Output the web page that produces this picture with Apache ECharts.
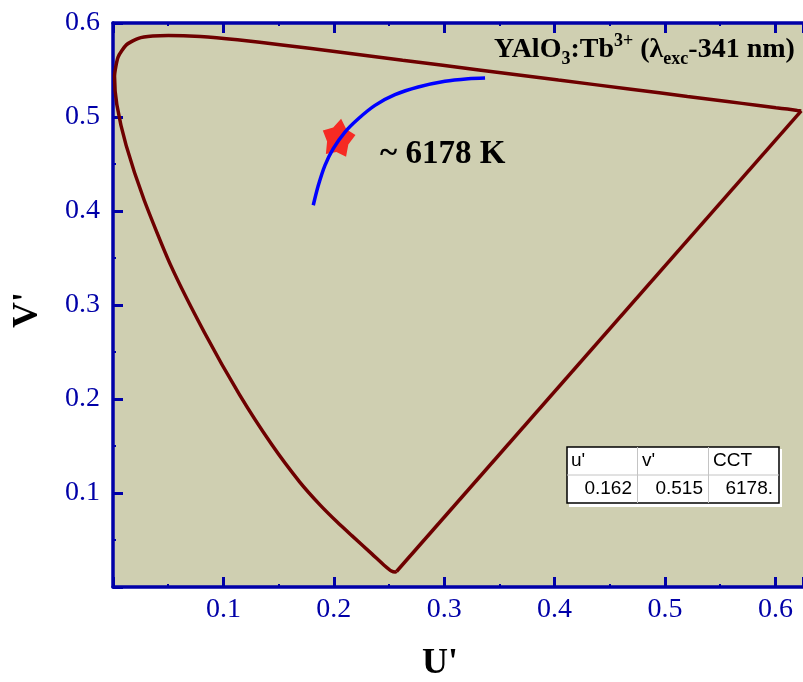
<!DOCTYPE html>
<html>
<head>
<meta charset="utf-8">
<script src="https://cdn.jsdelivr.net/npm/echarts@6/dist/echarts.min.js"></script>
<style>
html,body{margin:0;padding:0;background:#fff;}
#chart{width:803px;height:682px;}
</style>
</head>
<body>
<div id="chart"></div>
<script>
// Spectral locus (CIE 1976 u', v'), 380 nm -> 700 nm
const locusU = [0.2568,0.2557,0.2522,0.2461,0.2347,0.2161,0.2033,0.1877,0.1690,0.1441,0.1147,0.0828,0.0521,0.0282,0.0119,0.0035,0.0014,0.0046,0.0123,0.0231,0.0360,0.0501,0.0792,0.1127,0.1531,0.2026,0.2623,0.3315,0.4035,0.4692,0.5203,0.5565,0.5830,0.6005,0.6109,0.6199,0.6234];
const locusV = [0.0165,0.0159,0.0169,0.0226,0.0350,0.0549,0.0688,0.0871,0.1119,0.1510,0.2044,0.2708,0.3427,0.4117,0.4698,0.5131,0.5432,0.5638,0.5770,0.5837,0.5861,0.5868,0.5856,0.5821,0.5766,0.5694,0.5604,0.5501,0.5393,0.5296,0.5219,0.5165,0.5125,0.5099,0.5084,0.5070,0.5065];
// Purple line (closing the locus)
const purpleU = [0.6234, 0.2568];
const purpleV = [0.5065, 0.0165];
// Planckian locus segment (blue)
const planckU = [0.1814,0.1860,0.1920,0.1995,0.2101,0.2222,0.2373,0.2554,0.2765,0.3007,0.3218,0.3370];
const planckV = [0.4061,0.4273,0.4486,0.4663,0.4840,0.4982,0.5124,0.5237,0.5319,0.5380,0.5407,0.5415];
// Sample chromaticity point
const sampleU = [0.2043];
const sampleV = [0.4787];
// Table
const tableHeader = ["u'", "v'", "CCT"];
const tableValues = ["0.162", "0.515", "6178."];
const cctLabel = "~ 6178 K";

const zip = (a, b) => a.map((v, i) => [v, b[i]]);

const blue = '#0000a8';
const serif = "'Liberation Serif','Times New Roman',serif";
const sans = "'Liberation Sans',Arial,sans-serif";

const chart = echarts.init(document.getElementById('chart'));

// 5-point star, inner radius 0.65 of outer
const starPath = 'path://M50 0 L69.10 23.70 L97.55 34.55 L80.91 60.04 L79.39 90.45 L50 82.5 L20.61 90.45 L19.09 60.04 L2.45 34.55 L30.90 23.70 Z';

const axisCommon = {
  axisLine: { show: true, lineStyle: { color: blue, width: 3.5 } },
  axisTick: { show: true, inside: true, length: 10, lineStyle: { color: blue, width: 3 } },
  minorTick: { show: true, splitNumber: 2, length: 3, lineStyle: { color: blue, width: 2 } },
  splitLine: { show: false }
};

chart.setOption({
  animation: false,
  backgroundColor: '#ffffff',
  grid: { left: 113, right: 0, top: 23, bottom: 95, show: true, backgroundColor: '#cfcfb1', borderWidth: 0 },
  xAxis: [
    Object.assign({
      type: 'value', min: 0, max: 0.625, interval: 0.1, position: 'bottom',
      axisLabel: { color: blue, fontFamily: serif, fontSize: 28, margin: 9, showMinLabel: false, showMaxLabel: false,
        formatter: v => v.toFixed(1) }
    }, axisCommon),
    Object.assign({
      type: 'value', min: 0, max: 0.625, interval: 0.1, position: 'top',
      axisLabel: { show: false }
    }, axisCommon)
  ],
  yAxis: [
    Object.assign({
      type: 'value', min: 0, max: 0.6, interval: 0.1, position: 'left',
      axisLabel: { color: blue, fontFamily: serif, fontSize: 28, margin: 13, showMinLabel: false,
        formatter: v => v.toFixed(1) }
    }, axisCommon)
  ],
  series: [
    {
      type: 'line', data: zip(locusU, locusV), showSymbol: false, smooth: 0.2,
      lineStyle: { color: '#6e0000', width: 3.5 }, z: 2
    },
    {
      type: 'line', data: zip(purpleU, purpleV), showSymbol: false, smooth: false,
      lineStyle: { color: '#6e0000', width: 3.5 }, z: 2
    },
    {
      type: 'scatter', data: zip(sampleU, sampleV), symbol: starPath, symbolSize: [33, 37], symbolRotate: -8,
      itemStyle: { color: '#ff0000' }, z: 3
    },
    {
      type: 'line', data: zip(planckU, planckV), showSymbol: false, smooth: 0.3,
      lineStyle: { color: '#0000ff', width: 3.5 }, z: 4
    }
  ],
  graphic: [
    {
      type: 'text', left: 494, top: 32, z: 10,
      style: {
        text: '{m|YAlO}{sb|3}{m|:Tb}{sp|3+}{m| (λ}{se|exc}{m|-341 nm)}',
        rich: {
          m: { fontFamily: serif, fontWeight: 'bold', fontSize: 28, lineHeight: 36, fill: '#000' },
          sb: { fontFamily: serif, fontWeight: 'bold', fontSize: 18, lineHeight: 20, verticalAlign: 'bottom', fill: '#000' },
          se: { fontFamily: serif, fontWeight: 'bold', fontSize: 18, lineHeight: 14, verticalAlign: 'bottom', fill: '#000' },
          sp: { fontFamily: serif, fontWeight: 'bold', fontSize: 18, lineHeight: 12, verticalAlign: 'top', fill: '#000' }
        }
      }
    },
    {
      type: 'text', x: 380, y: 154, z: 10,
      style: { text: cctLabel, fontFamily: serif, fontWeight: 'bold', fontSize: 33, fill: '#000', textVerticalAlign: 'middle' }
    },
    {
      type: 'text', x: 440, y: 664, z: 10,
      style: { text: "U'", fontFamily: serif, fontWeight: 'bold', fontSize: 36, fill: '#000', textAlign: 'center', textVerticalAlign: 'middle' }
    },
    {
      type: 'text', x: 28, y: 310, rotation: Math.PI / 2, z: 10,
      style: { text: "V'", fontFamily: serif, fontWeight: 'bold', fontSize: 36, fill: '#000', textAlign: 'center', textVerticalAlign: 'middle' }
    },
    // table
    { type: 'rect', shape: { x: 569, y: 449, width: 213, height: 58 }, style: { fill: '#ffffff' }, z: 10 },
    { type: 'rect', shape: { x: 567, y: 447, width: 212, height: 56 }, style: { fill: '#ffffff', stroke: '#000', lineWidth: 1.5 }, z: 11 },
    { type: 'line', shape: { x1: 567, y1: 475, x2: 779, y2: 475 }, style: { stroke: '#c4c4c4', lineWidth: 1 }, z: 12 },
    { type: 'line', shape: { x1: 637.5, y1: 447, x2: 637.5, y2: 503 }, style: { stroke: '#c4c4c4', lineWidth: 1 }, z: 12 },
    { type: 'line', shape: { x1: 708.5, y1: 447, x2: 708.5, y2: 503 }, style: { stroke: '#c4c4c4', lineWidth: 1 }, z: 12 },
    { type: 'text', x: 571, y: 461, z: 13, style: { text: tableHeader[0], fontFamily: sans, fontSize: 19, fill: '#000', textVerticalAlign: 'middle' } },
    { type: 'text', x: 642, y: 461, z: 13, style: { text: tableHeader[1], fontFamily: sans, fontSize: 19, fill: '#000', textVerticalAlign: 'middle' } },
    { type: 'text', x: 713, y: 461, z: 13, style: { text: tableHeader[2], fontFamily: sans, fontSize: 19, fill: '#000', textVerticalAlign: 'middle' } },
    { type: 'text', x: 632, y: 489, z: 13, style: { text: tableValues[0], fontFamily: sans, fontSize: 19, fill: '#000', textAlign: 'right', textVerticalAlign: 'middle' } },
    { type: 'text', x: 703, y: 489, z: 13, style: { text: tableValues[1], fontFamily: sans, fontSize: 19, fill: '#000', textAlign: 'right', textVerticalAlign: 'middle' } },
    { type: 'text', x: 773, y: 489, z: 13, style: { text: tableValues[2], fontFamily: sans, fontSize: 19, fill: '#000', textAlign: 'right', textVerticalAlign: 'middle' } }
  ]
});
</script>
</body>
</html>
